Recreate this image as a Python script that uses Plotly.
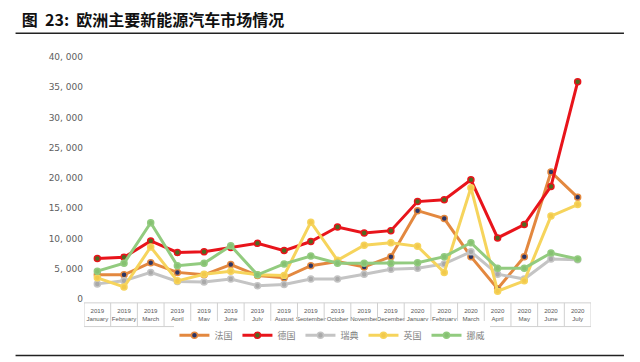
import plotly.graph_objects as go

years = ["2019"] * 12 + ["2020"] * 7
months = ["January", "February", "March", "April", "May", "June", "July", "August",
          "September", "October", "November", "December",
          "January", "February", "March", "April", "May", "June", "July"]

france = [4000, 4000, 6000, 4400, 4000, 5700, 3900, 3500, 5500, 6200, 5300, 7000,
          14600, 13300, 7000, 1700, 7000, 21000, 16800]
germany = [6700, 6900, 9600, 7700, 7800, 8500, 9200, 8000, 9500, 11900, 10900, 11300,
           16100, 16400, 19700, 10100, 12300, 18600, 35900]
sweden = [2500, 3000, 4400, 2900, 2800, 3300, 2200, 2400, 3300, 3300, 4100, 4900,
          5100, 5800, 7800, 4100, 3300, 6600, 6500]
uk = [3500, 2000, 8600, 3000, 4100, 4600, 4000, 3900, 12700, 6400, 8900, 9300,
      8700, 4400, 18400, 1300, 3000, 13700, 15600]
norway = [4600, 5900, 12600, 5500, 5900, 8800, 4000, 5800, 7100, 5900, 5900, 5900,
          6000, 7000, 9300, 5100, 5100, 7600, 6600]

series_names = ["法国", "德国", "瑞典", "英国", "挪威"]
y_ticks = [0, 5000, 10000, 15000, 20000, 25000, 30000, 35000, 40000]
y_tick_text = ["0", "5, 000", "10, 000", "15, 000", "20, 000", "25, 000", "30, 000", "35, 000", "40, 000"]

x = list(range(len(months)))
tick_text = [f"{y}<br>{m}" for y, m in zip(years, months)]

styles = [
    ("#E3883F", "#2B3566"),
    ("#E8141B", "#4F6A22"),
    ("#C4C4C4", "#A9A9A9"),
    ("#F6D45C", "#F2C94C"),
    ("#92CB7F", "#86C172"),
]

fig = go.Figure()
for name, vals, (lc, mc) in zip(series_names, [france, germany, sweden, uk, norway], styles):
    fig.add_trace(go.Scatter(
        x=x, y=vals, name=name, mode="lines+markers",
        line=dict(color=lc, width=3),
        marker=dict(color=mc, size=6, line=dict(color=lc, width=1.5)),
    ))

# table-like cell borders for the category axis
shapes = []
y_top, y_bot = -0.016, -0.114
for i in range(len(months) + 1):
    shapes.append(dict(type="line", xref="x", yref="paper", x0=i - 0.5, x1=i - 0.5,
                       y0=y_top, y1=y_bot, line=dict(color="#D0D0D0", width=1)))
for yy in (y_top, y_bot):
    shapes.append(dict(type="line", xref="x", yref="paper", x0=-0.5, x1=len(months) - 0.5,
                       y0=yy, y1=yy, line=dict(color="#D0D0D0", width=1)))
# title underline and bottom rule
shapes.append(dict(type="line", xref="paper", yref="paper", x0=-0.135, x1=1.065,
                   y0=1.098, y1=1.098, line=dict(color="#222222", width=1.5)))
shapes.append(dict(type="line", xref="paper", yref="paper", x0=-0.135, x1=1.065,
                   y0=-0.233, y1=-0.233, line=dict(color="#222222", width=1.5)))

fig.update_layout(
    width=640, height=362,
    margin=dict(l=84, r=49, t=57, b=60),
    paper_bgcolor="white", plot_bgcolor="white",
    font=dict(family="Noto Sans CJK SC, DejaVu Sans", color="#595959"),
    title=dict(text="<b>图  23:  欧洲主要新能源汽车市场情况</b>", x=0.034, xanchor="left",
               y=0.945, yanchor="middle", font=dict(size=16, color="#111111",
                                                    family="Noto Sans CJK SC")),
    xaxis=dict(tickmode="array", tickvals=x, ticktext=tick_text, range=[-0.5, 18.5],
               showgrid=False, zeroline=False, showline=False, ticks="", tickangle=0,
               automargin=False, ticklabelstandoff=7,
               tickfont=dict(size=6.1, family="Liberation Sans Narrow, Liberation Sans", color="#595959")),
    yaxis=dict(tickmode="array", tickvals=y_ticks, ticktext=y_tick_text, range=[0, 40000],
               showgrid=False, zeroline=False, showline=False, ticks="",
               tickfont=dict(size=9, family="DejaVu Sans", color="#606060")),
    legend=dict(orientation="h", x=0.49, xanchor="center", y=-0.15, yanchor="middle",
                font=dict(size=9, color="#808080"), itemwidth=30),
    shapes=shapes,
    showlegend=True,
)

fig.write_html("out.html")
